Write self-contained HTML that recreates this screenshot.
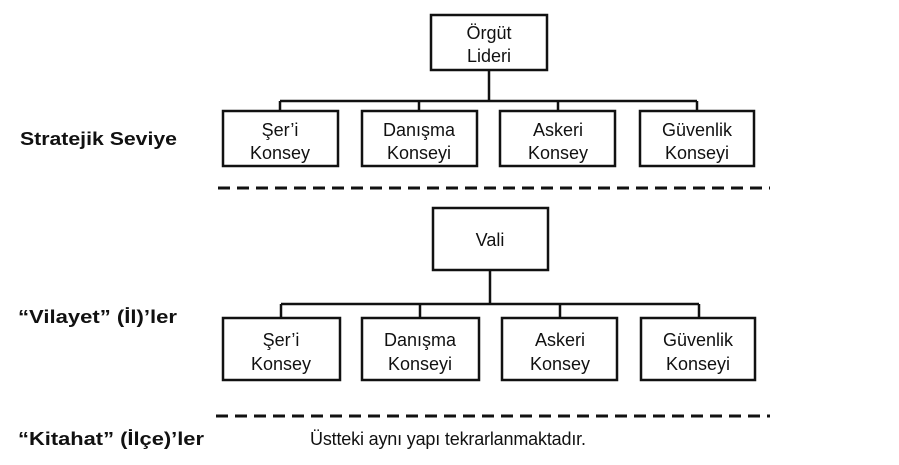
<!DOCTYPE html>
<html><head><meta charset="utf-8"><style>
html,body{margin:0;padding:0;background:#fff;}
svg{display:block;}
text{font-family:"Liberation Sans",sans-serif;fill:#111;}
</style></head><body>
<svg width="899" height="465" viewBox="0 0 899 465" xmlns="http://www.w3.org/2000/svg">
<g fill="none" stroke="#111" stroke-width="2.5">
<rect x="431" y="15" width="116" height="55"/>
<line x1="489" y1="70" x2="489" y2="101"/>
<line x1="280" y1="101" x2="697" y2="101"/>
<line x1="280" y1="101" x2="280" y2="111"/>
<line x1="419" y1="101" x2="419" y2="111"/>
<line x1="558" y1="101" x2="558" y2="111"/>
<line x1="697" y1="101" x2="697" y2="111"/>
<rect x="223" y="111" width="115" height="55"/>
<rect x="362" y="111" width="115" height="55"/>
<rect x="500" y="111" width="115" height="55"/>
<rect x="640" y="111" width="114" height="55"/>

<rect x="433" y="208" width="115" height="62"/>
<line x1="490" y1="270" x2="490" y2="304"/>
<line x1="281" y1="304" x2="699" y2="304"/>
<line x1="281" y1="304" x2="281" y2="318"/>
<line x1="420" y1="304" x2="420" y2="318"/>
<line x1="560" y1="304" x2="560" y2="318"/>
<line x1="699" y1="304" x2="699" y2="318"/>
<rect x="223" y="318" width="117" height="62"/>
<rect x="362" y="318" width="117" height="62"/>
<rect x="502" y="318" width="115" height="62"/>
<rect x="641" y="318" width="114" height="62"/>
</g>
<g stroke="#111" stroke-width="3" stroke-dasharray="12 7">
<line x1="218" y1="188" x2="770" y2="188"/>
<line x1="216" y1="416" x2="770" y2="416"/>
</g>
<g font-size="18" text-anchor="middle">
<text x="489" y="39">Örgüt</text><text x="489" y="62">Lideri</text>
<text x="280" y="136">Şer’i</text><text x="280" y="159">Konsey</text>
<text x="419" y="136">Danışma</text><text x="419" y="159">Konseyi</text>
<text x="558" y="136">Askeri</text><text x="558" y="159">Konsey</text>
<text x="697" y="136">Güvenlik</text><text x="697" y="159">Konseyi</text>
<text x="490" y="246">Vali</text>
<text x="281" y="346">Şer’i</text><text x="281" y="370">Konsey</text>
<text x="420" y="346">Danışma</text><text x="420" y="370">Konseyi</text>
<text x="560" y="346">Askeri</text><text x="560" y="370">Konsey</text>
<text x="698" y="346">Güvenlik</text><text x="698" y="370">Konseyi</text>
</g>
<g font-size="18" font-weight="bold">
<text x="20" y="145" textLength="157" lengthAdjust="spacingAndGlyphs">Stratejik Seviye</text>
<text x="18" y="323" textLength="159" lengthAdjust="spacingAndGlyphs">“Vilayet” (İl)’ler</text>
<text x="18" y="445" textLength="186" lengthAdjust="spacingAndGlyphs">“Kitahat” (İlçe)’ler</text>
</g>
<text x="310" y="445" font-size="18" textLength="276" lengthAdjust="spacing">Üstteki aynı yapı tekrarlanmaktadır.</text>
</svg>
</body></html>
